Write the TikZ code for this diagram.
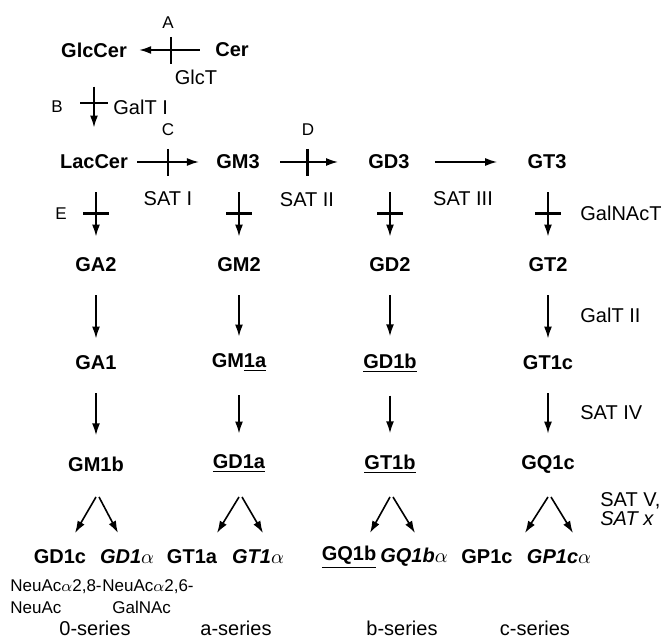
\documentclass[tikz,border=0pt]{standalone}
\usepackage{fontspec}
\setmainfont{Liberation Sans}
\usetikzlibrary{arrows.meta}

\begin{document}
\begin{tikzpicture}[x=0.5pt,y=-0.5pt,
        lipid/.style={font=\bfseries, inner sep=0pt},
        enzyme/.style={inner sep=0pt},
        site/.style={font=\fontsize{8.5}{10}\selectfont, inner sep=0pt},
        note/.style={font=\fontsize{8.5}{11}\selectfont, inner sep=0pt, align=left, anchor=west},
        arr/.style={-{Latex[length=6pt,width=4pt]}, line width=0.8pt},
        down/.style={arr, shorten <=11.5pt, shorten >=10.5pt},
        bar/.style={line width=1.1pt},
    ]
    \useasboundingbox (0,0) rectangle (666,641);

    % glycolipids
    \node[lipid] (GlcCer) at (94,50) {GlcCer};
    \node[lipid] (Cer) at (232,50) {Cer};
    \node[lipid] (LacCer) at (94,162) {LacCer};
    \node[lipid] (GM3) at (238,162) {GM3};
    \node[lipid] (GD3) at (389,162) {GD3};
    \node[lipid] (GT3) at (547,162) {GT3};
    \node[lipid] (GA2) at (96,265) {GA2};
    \node[lipid] (GM2) at (239,265) {GM2};
    \node[lipid] (GD2) at (390,265) {GD2};
    \node[lipid] (GT2) at (548,265) {GT2};
    \node[lipid] (GA1) at (96,363) {GA1};
    \node[lipid] (GM1a) at (239,363) {GM\underline{1a}};
    \node[lipid] (GD1b) at (390,363) {\underline{GD1b}};
    \node[lipid] (GT1c) at (548,363) {GT1c};
    \node[lipid] (GM1b) at (96,464) {GM1b};
    \node[lipid] (GD1a) at (239,464) {\underline{GD1a}};
    \node[lipid] (GT1b) at (390,464) {\underline{GT1b}};
    \node[lipid] (GQ1c) at (548,464) {GQ1c};
    \node[lipid] (GD1c) at (60,557) {GD1c};
    \node[lipid] (GD1al) at (127,557) {\textit{GD1}$\alpha$};
    \node[lipid] (GT1a) at (192,557) {GT1a};
    \node[lipid] (GT1al) at (258,557) {\textit{GT1}$\alpha$};
    \node[lipid] (GQ1b) at (349,557) {\underline{GQ1b}};
    \node[lipid] (GQ1bal) at (414,557) {\textit{GQ1b}$\alpha$};
    \node[lipid] (GP1c) at (487,557) {GP1c};
    \node[lipid] (GP1cal) at (559,557) {\textit{GP1c}$\alpha$};

    % enzymes and sites
    \node[site] (sA) at (168,23) {A};
    \node[enzyme] (GlcT) at (196,77) {GlcT};
    \node[site] (sB) at (57,107) {B};
    \node[enzyme, anchor=west] (GalTI) at (113,107) {GalT I};
    \node[site] (sC) at (168,130) {C};
    \node[enzyme] (SATI) at (168,199) {SAT I};
    \node[site] (sD) at (308,130) {D};
    \node[enzyme] (SATII) at (307,200) {SAT II};
    \node[enzyme] (SATIII) at (463,199) {SAT III};
    \node[site] (sE) at (61,214) {E};
    \node[enzyme, anchor=west] (GalNAcT) at (580,213) {GalNAcT};
    \node[enzyme, anchor=west] (GalTII) at (580,315) {GalT II};
    \node[enzyme, anchor=west] (SATIV) at (580,413) {SAT IV};
    \node[enzyme, anchor=west, align=left, font=\fontsize{10}{9.5}\selectfont] (SATV) at (600,509) {SAT V,\\\textit{SAT x}};
    \node[note] (link8) at (10,597) {NeuAc$\alpha$2,8-\\NeuAc};
    \node[note] (link6) at (102,597) {NeuAc$\alpha$2,6-\\\hspace{5pt}GalNAc};

    % series
    \node[enzyme] (s0) at (95,628) {0-series};
    \node[enzyme] (sa) at (236,628) {a-series};
    \node[enzyme] (sb) at (402,628) {b-series};
    \node[enzyme] (sc) at (535,628) {c-series};

    % first steps
    \draw[arr, shorten <=7.5pt, shorten >=6pt] (Cer) -- (GlcCer) coordinate[midway] (xA);
    \draw[bar] (xA) ++(0,-13) -- ++(0,27);
    \draw[arr, shorten <=14.5pt, shorten >=13.5pt] (GlcCer.south) -- (GlcCer.south |- LacCer.north) coordinate[pos=0.47] (xB);
    \draw[bar] (xB) ++(-14,0) -- ++(28,0);
    \draw[arr, shorten <=4.5pt, shorten >=8.5pt] (LacCer) -- (GM3) coordinate[pos=0.45] (xC);
    \draw[bar] (xC) ++(0,-13) -- ++(0,27);
    \draw[arr, shorten <=10pt, shorten >=15pt] (GM3) -- (GD3) coordinate[pos=0.44] (xD);
    \draw[bar] (xD) ++(0,-13) -- ++(0,27);
    \draw[arr, shorten <=12.5pt, shorten >=15pt] (GD3) -- (GT3);

    % GalNAcT
    \draw[down] (LacCer.south -| GA2) -- (GA2) coordinate[midway] (xE);
    \draw[bar] (xE) ++(-13,0) -- ++(26,0);
    \draw[down] (GM3.south -| GM2) -- (GM2) coordinate[midway] (xF);
    \draw[bar] (xF) ++(-13,0) -- ++(26,0);
    \draw[down] (GD3.south -| GD2) -- (GD2) coordinate[midway] (xG);
    \draw[bar] (xG) ++(-13,0) -- ++(26,0);
    \draw[down] (GT3.south -| GT2) -- (GT2) coordinate[midway] (xH);
    \draw[bar] (xH) ++(-13,0) -- ++(26,0);

    % GalT II
    \draw[down, shorten >=8.5pt] (GA2) -- (GA1);
    \draw[down, shorten >=8.5pt] (GM2) -- (GM1a);
    \draw[down, shorten >=8.5pt] (GD2) -- (GD1b);
    \draw[down, shorten >=8.5pt] (GT2) -- (GT1c);

    % SAT IV
    \draw[down] (GA1) -- (GM1b);
    \draw[down] (GM1a) -- (GD1a);
    \draw[down] (GD1b) -- (GT1b);
    \draw[down] (GT1c) -- (GQ1c);

    % SAT V, SAT x
    \draw[arr] ([shift={(0,33)}]GM1b.center) -- ([shift={(15,-24)}]GD1c.center);
    \draw[arr] ([shift={(3,33)}]GM1b.center) -- ([shift={(-9,-24)}]GD1al.center);
    \draw[arr] ([shift={(0,33)}]GD1a.center) -- ([shift={(25,-24)}]GT1a.center);
    \draw[arr] ([shift={(3,33)}]GD1a.center) -- ([shift={(5,-24)}]GT1al.center);
    \draw[arr] ([shift={(0,33)}]GT1b.center) -- ([shift={(21,-24)}]GQ1b.center);
    \draw[arr] ([shift={(3,33)}]GT1b.center) -- ([shift={(1,-24)}]GQ1bal.center);
    \draw[arr] ([shift={(0,33)}]GQ1c.center) -- ([shift={(38,-24)}]GP1c.center);
    \draw[arr] ([shift={(3,33)}]GQ1c.center) -- ([shift={(14,-24)}]GP1cal.center);
\end{tikzpicture}
\end{document}
